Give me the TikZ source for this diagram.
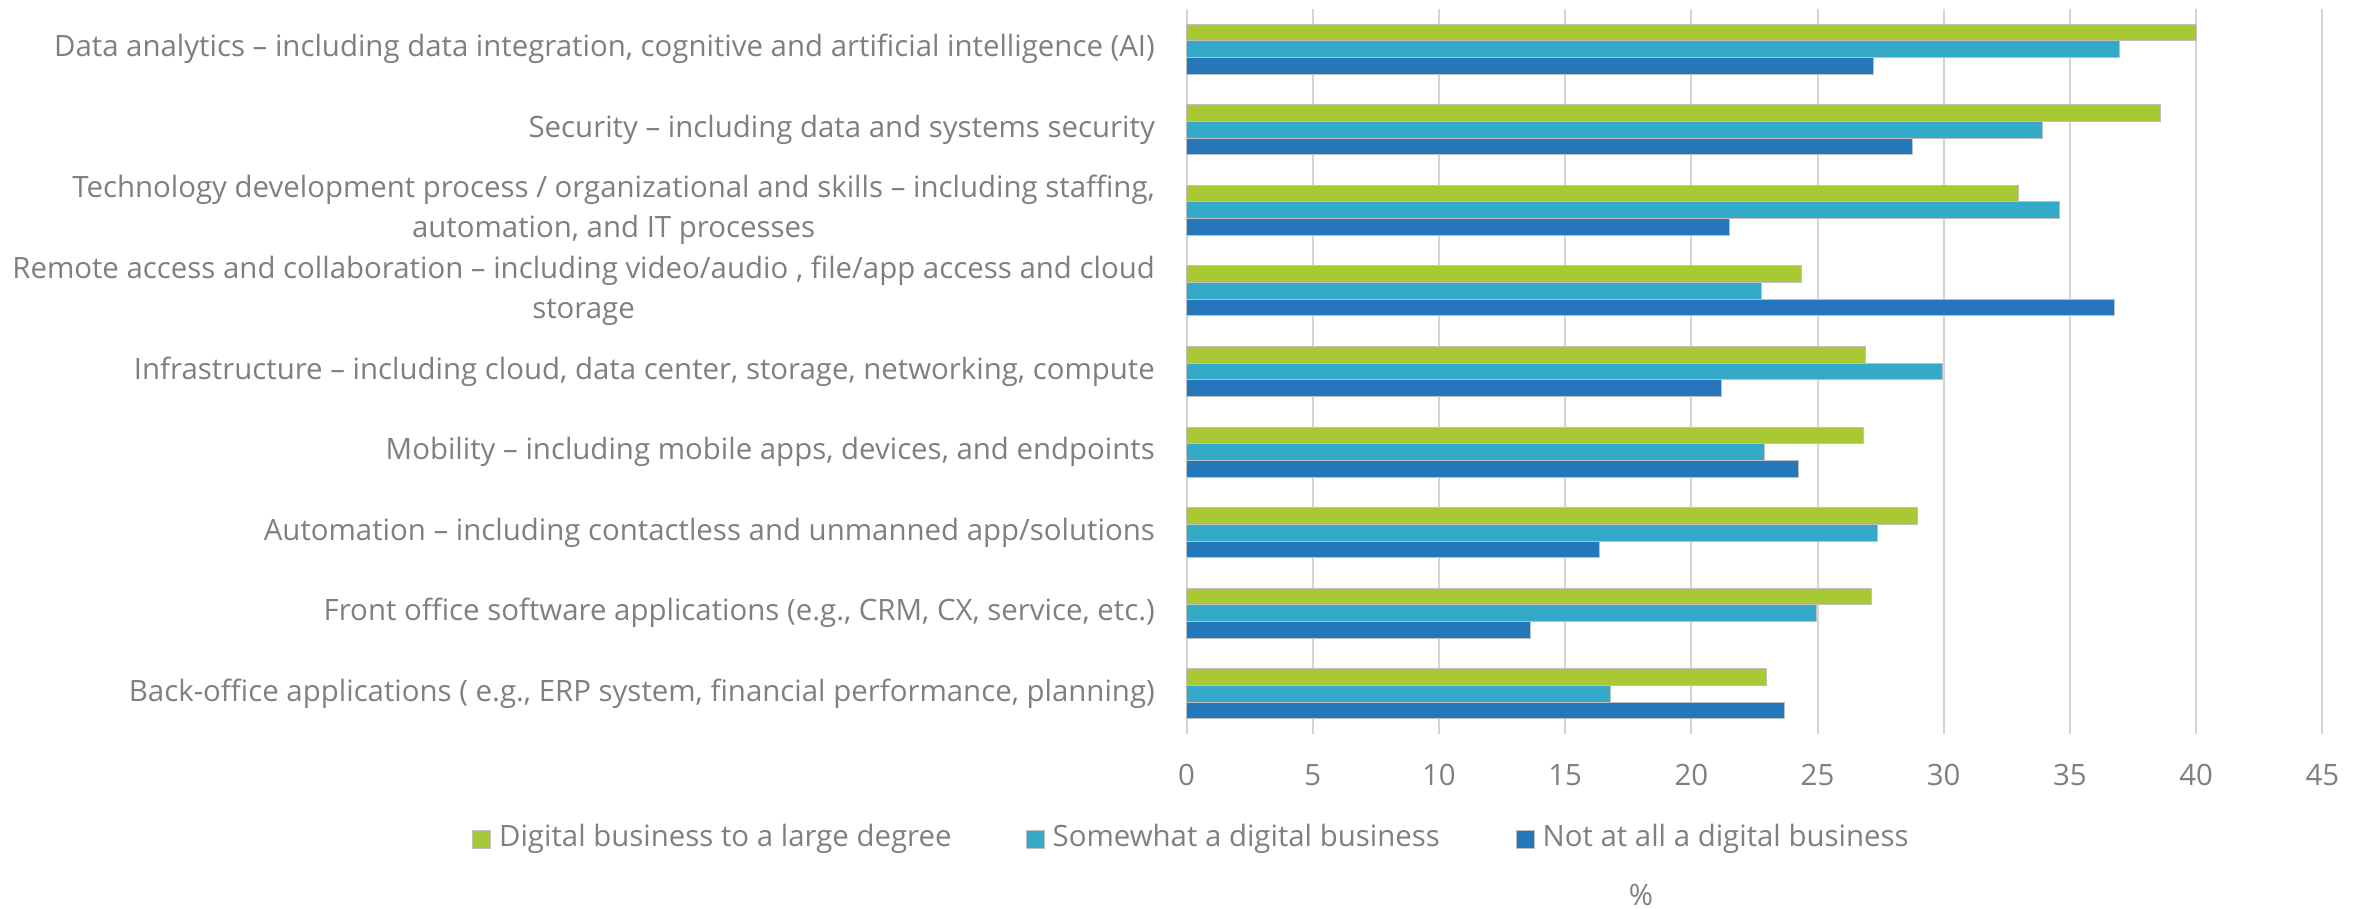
\documentclass[tikz,border=0pt]{standalone}
\usepackage{fontspec}
\setmainfont{Open Sans}
\usepackage{xcolor}
\usetikzlibrary{positioning}

\definecolor{verde}{HTML}{A9C934}
\definecolor{ciano}{HTML}{35AAC8}
\definecolor{blu}{HTML}{2477BA}
\definecolor{grigio}{HTML}{7F7F7F}
\definecolor{griglia}{HTML}{D4D4D4}

\begin{document}
\begin{tikzpicture}[x=1pt, y=-1pt,
    etichetta/.style={text=grigio, font=\fontsize{29.4}{40}\selectfont, inner sep=0pt},
    barra/.style={draw=black!25, line width=0.8pt},
    marcatore/.style={draw=black!25, line width=0.8pt, minimum size=18pt, inner sep=0pt}]
    \useasboundingbox (0,0) rectangle (2367,908);

    %griglia verticale e valori
    \foreach \v in {0,5,...,45} {
      \draw[griglia, line width=2pt] (1186.5+25.24*\v, 8.5) -- (1186.5+25.24*\v, 734);
      \node[etichetta] (tick\v) at (1186.5+25.24*\v, 775) {\v};
    }

    %barre: verde, ciano, blu
    \foreach \k/\g/\c/\b in {1/40.02/36.96/27.22, 2/38.57/33.91/28.75, 3/32.96/34.57/21.52,
        4/24.36/22.78/36.76, 5/26.88/29.95/21.20, 6/26.83/22.88/24.25,
        7/28.95/27.39/16.34, 8/27.12/24.97/13.61, 9/22.98/16.80/23.69} {
      \pgfmathsetmacro\yc{49+80.6*(\k-1)}
      \filldraw[barra, fill=verde] (1186.5, \yc-25) rectangle (1186.5+25.24*\g, \yc-8.33);
      \filldraw[barra, fill=ciano] (1186.5, \yc-8.33) rectangle (1186.5+25.24*\c, \yc+8.33);
      \filldraw[barra, fill=blu] (1186.5, \yc+8.33) rectangle (1186.5+25.24*\b, \yc+25);
    }

    %categorie
    \node[etichetta, anchor=east] (cat1) at (1155, 49) {Data analytics – including data integration, cognitive and artificial intelligence (AI)};
    \node[etichetta, anchor=east] (cat2) at (1155, 129.6) {Security – including data and systems security};
    \node[etichetta, anchor=east, align=center] (cat3) at (1155, 210.2) {Technology development process / organizational and skills – including staffing,\\automation, and IT processes};
    \node[etichetta, anchor=east, align=center] (cat4) at (1155, 290.8) {Remote access and collaboration – including video/audio , file/app access and cloud\\storage};
    \node[etichetta, anchor=east] (cat5) at (1155, 371.4) {Infrastructure – including cloud, data center, storage, networking, compute};
    \node[etichetta, anchor=east] (cat6) at (1155, 452) {Mobility – including mobile apps, devices, and endpoints};
    \node[etichetta, anchor=east] (cat7) at (1155, 532.6) {Automation – including contactless and unmanned app/solutions};
    \node[etichetta, anchor=east] (cat8) at (1155, 613.2) {Front office software applications (e.g., CRM, CX, service, etc.)};
    \node[etichetta, anchor=east] (cat9) at (1155, 693.8) {Back-office applications ( e.g., ERP system, financial performance, planning)};

    %legenda
    \node[marcatore, fill=verde] (m1) at (481.5, 839) {};
    \node[etichetta, right=8pt of m1] (l1) {Digital business to a large degree};
    \node[marcatore, fill=ciano] (m2) at (1035, 839) {};
    \node[etichetta, right=8pt of m2] (l2) {Somewhat a digital business};
    \node[marcatore, fill=blu] (m3) at (1525, 839) {};
    \node[etichetta, right=8pt of m3] (l3) {Not at all a digital business};

    \node[etichetta] (perc) at (1641, 895) {\%};
\end{tikzpicture}
\end{document}
